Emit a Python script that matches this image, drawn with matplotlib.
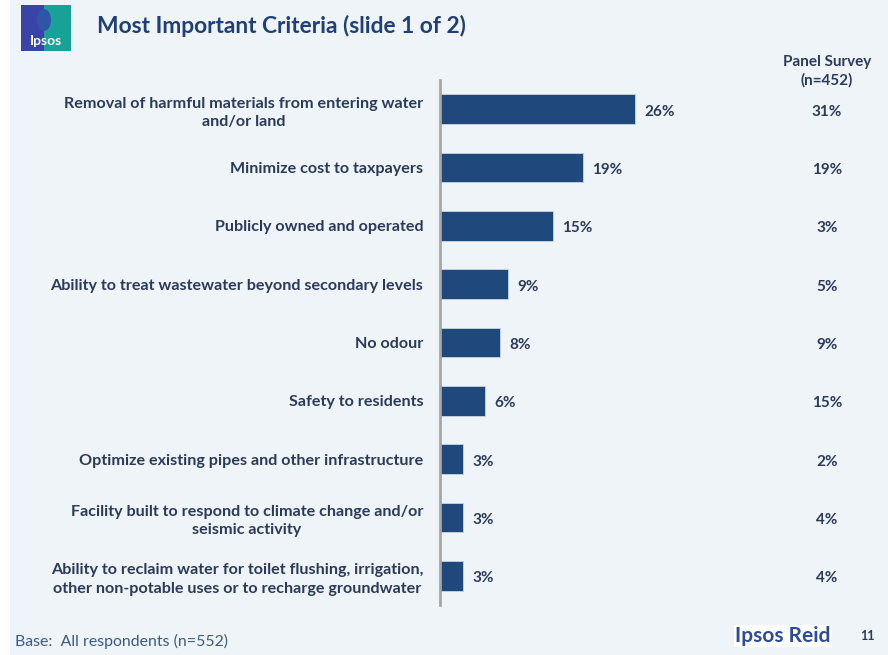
import matplotlib.pyplot as plt
import matplotlib.patches as mpatches
from matplotlib.transforms import blended_transform_factory

plt.rcParams['font.family'] = ['Lato', 'DejaVu Sans']

criteria = [
    'Removal of harmful materials from entering water\nand/or land',
    'Minimize cost to taxpayers',
    'Publicly owned and operated',
    'Ability to treat wastewater beyond secondary levels',
    'No odour',
    'Safety to residents',
    'Optimize existing pipes and other infrastructure',
    'Facility built to respond to climate change and/or\nseismic activity',
    'Ability to reclaim water for toilet flushing, irrigation,\nother non-potable uses or to recharge groundwater',
]
all_respondents = [26, 19, 15, 9, 8, 6, 3, 3, 3]
panel_survey = [31, 19, 3, 5, 9, 15, 2, 4, 4]

bg = '#eef4f8'
bar_color = '#1f497d'
navy = '#1f3f78'
label_color = '#2b3a5c'

fig = plt.figure(figsize=(8.88, 6.55), dpi=100)
fig.patch.set_facecolor('white')
# slide background, leaving a thin white strip on the left
fig.add_artist(mpatches.Rectangle((10 / 888, 0), 1, 1, transform=fig.transFigure,
                                  facecolor=bg, edgecolor='none', zorder=0))

ax = fig.add_axes([440 / 888, 50 / 655, 300 / 888, 525 / 655])
ax.set_facecolor('none')
y = list(range(len(criteria)))
ax.barh(y, all_respondents, height=0.51, color=bar_color, edgecolor='#c8d4e2', linewidth=0.6)
ax.set_ylim(len(criteria) - 0.5, -0.5)
ax.set_xlim(0, 40)
for side in ['top', 'right', 'bottom']:
    ax.spines[side].set_visible(False)
ax.spines['left'].set_color('#a6a6a6')
ax.spines['left'].set_linewidth(2)
ax.set_xticks([])
ax.set_yticks(y)
ax.set_yticklabels(criteria, fontsize=11.6, fontweight='bold', color=label_color,
                   multialignment='center', linespacing=1.4)
ax.tick_params(axis='y', length=0, pad=12)

# value labels sit a touch below the bar centre
for yi, v in zip(y, all_respondents):
    ax.text(v + 1.3, yi + 0.04, f'{v}%', va='center', ha='left', fontsize=11,
            fontweight='bold', color=label_color)

trans = blended_transform_factory(fig.transFigure, ax.transData)
for yi, v in zip(y, panel_survey):
    ax.text(827 / 888, yi + 0.04, f'{v}%', transform=trans, va='center', ha='center',
            fontsize=11, fontweight='bold', color=label_color)
fig.text(827 / 888, 1 - 71 / 655, 'Panel Survey\n(n=452)', ha='center', va='center',
         fontsize=11, fontweight='bold', color=label_color, linespacing=1.35)

# logo
fig.add_artist(mpatches.Rectangle((21 / 888, 1 - 51 / 655), 23 / 888, 46 / 655,
                                  transform=fig.transFigure, facecolor='#3845a6',
                                  edgecolor='none'))
fig.add_artist(mpatches.Rectangle((44 / 888, 1 - 51 / 655), 27 / 888, 46 / 655,
                                  transform=fig.transFigure, facecolor='#18a197',
                                  edgecolor='none'))
fig.add_artist(mpatches.Ellipse((44 / 888, 1 - 20 / 655), 14 / 888, 22 / 655,
                                transform=fig.transFigure, facecolor='#2f55a8',
                                edgecolor='none'))
fig.text(46 / 888, 1 - 41 / 655, 'Ipsos', ha='center', va='center', fontsize=10,
         fontweight='bold', color='white')

fig.text(97 / 888, 1 - 26 / 655, 'Most Important Criteria (slide 1 of 2)', ha='left',
         va='center', fontsize=16.4, fontweight='bold', color=navy)

fig.text(15 / 888, 1 - 641 / 655, 'Base:  All respondents (n=552)', ha='left',
         va='center', fontsize=11.4, color='#3a5a8c')
fig.text(783 / 888, 1 - 636 / 655, 'Ipsos Reid', ha='center', va='center', fontsize=15,
         fontweight='bold', color='#2c4a9e', fontstretch='condensed',
         bbox=dict(facecolor='white', edgecolor='none', pad=1))
fig.text(867 / 888, 1 - 636 / 655, '11', ha='center', va='center', fontsize=9,
         fontweight='bold', color='#2b3a5c')

fig.savefig('out.png', dpi=100, facecolor=fig.get_facecolor())
